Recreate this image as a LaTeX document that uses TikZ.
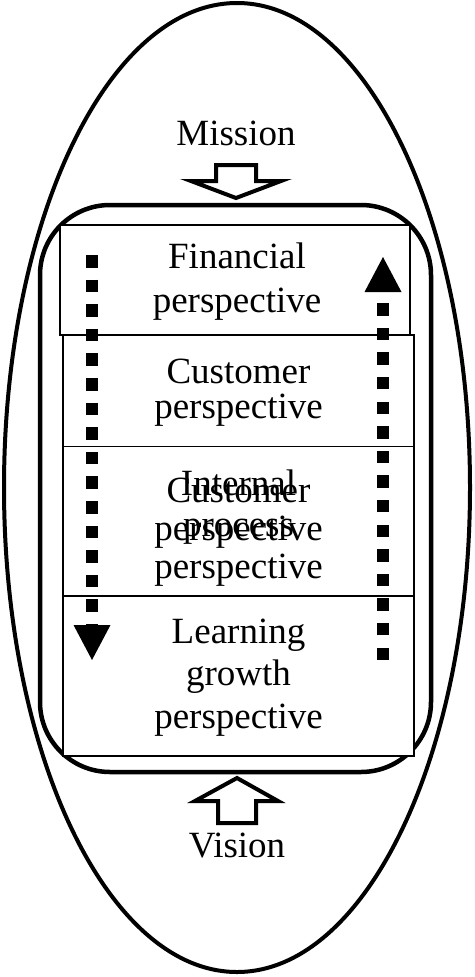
\documentclass[tikz,border=0pt]{standalone}
\usepackage{fontspec}
\setmainfont{Liberation Serif}
\usetikzlibrary{arrows.meta}
\begin{document}
\begin{tikzpicture}[x=1pt,y=-1pt,
  lbl/.style={font=\fontsize{37}{44}\selectfont, inner sep=0pt, anchor=base},
  persp/.style={draw, line width=1.6pt, fill=white, inner sep=0pt},
  dotarrow/.style={line width=12.3pt, line cap=butt, dash pattern=on 12.5pt off 12.1pt,
    -{Triangle[length=35pt,width=37pt,line width=0pt]}},
  hollow/.style={draw, line width=4pt, fill=white, line join=miter}]
\useasboundingbox (0,0) rectangle (474,977);
% outer ellipse
\draw[line width=4pt] (237,487.5) ellipse [x radius=233, y radius=484.5];
% rounded frame
\node[draw, line width=4.5pt, rounded corners=70pt, minimum width=391pt, minimum height=567pt, inner sep=0pt] (frame) at (235.5,488.5) {};
% perspective boxes
\node[persp, minimum width=350pt, minimum height=110pt] (finbox) at (235,280) {};
\node[persp, minimum width=351pt, minimum height=111.5pt] (cusbox) at (238.5,390.75) {};
\node[persp, minimum width=351pt, minimum height=149.5pt] (intbox) at (238.5,521.25) {};
\node[persp, minimum width=351pt, minimum height=160pt] (leabox) at (238.5,676) {};
% texts
\node[lbl] (mission) at (236,145) {Mission};
\node[lbl] (vision) at (237,857) {Vision};
\node[lbl] (fin1) at (237,268) {Financial};
\node[lbl] (fin2) at (237,312) {perspective};
\node[lbl] (cus1) at (238.5,383) {Customer};
\node[lbl] (cus2) at (238.5,418) {perspective};
\node[lbl] (int1) at (238.5,495) {Internal};
\node[lbl] (int2) at (238.5,536) {process};
\node[lbl] (int3) at (238.5,578) {perspective};
\node[lbl] (cuo1) at (238.5,502) {Customer};
\node[lbl] (cuo2) at (238.5,540) {perspective};
\node[lbl] (lea1) at (238.5,643) {Learning};
\node[lbl] (lea2) at (238.5,685) {growth};
\node[lbl] (lea3) at (238.5,728) {perspective};
% dotted arrows
\coordinate (lstart) at (92,255);
\coordinate (lend) at (92,660);
\coordinate (rstart) at (383,660);
\coordinate (rend) at (383,257);
\draw[dotarrow] (lstart) -- (lend);
\draw[dotarrow] (rstart) -- (rend);
% mission / vision hollow arrows
\draw[hollow] (216,165) -- (256,165) -- (256,181) -- (281,181) -- (236,198) -- (191,181) -- (216,181) -- cycle;
\draw[hollow] (218,823) -- (256,823) -- (256,801) -- (278,801) -- (237,778) -- (195,801) -- (218,801) -- cycle;
\end{tikzpicture}
\end{document}
